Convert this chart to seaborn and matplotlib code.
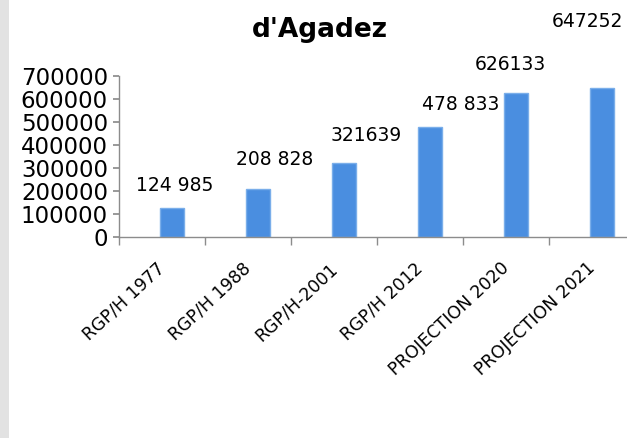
import numpy as np
import pandas as pd
import seaborn as sns
import matplotlib.pyplot as plt
import matplotlib.transforms as mtransforms
from matplotlib.patches import Rectangle

# census / projection population of Agadez
categories = ['RGP/H 1977', 'RGP/H 1988', 'RGP/H-2001', 'RGP/H 2012',
              'PROJECTION 2020', 'PROJECTION 2021']
population = [124985, 208828, 321639, 478833, 626133, 647252]
value_labels = ['124 985', '208 828', '321639', '478 833', '626133', '647252']

df = pd.DataFrame({'cat': categories, 'pop': population})

sns.set_theme(style='white')
plt.rcParams['font.family'] = ['DejaVu Sans']
plt.rcParams['text.color'] = 'black'
plt.rcParams['xtick.color'] = 'black'
plt.rcParams['ytick.color'] = 'black'

fig = plt.figure(figsize=(6.27, 4.38), dpi=100)
# textured gray strip on the left edge
fig.patches.append(Rectangle((0, 0), 9 / 627, 1, transform=fig.transFigure,
                             facecolor='#e2e2e2', edgecolor='none'))

ax = fig.add_axes([119 / 627, 1 - 237 / 438, 516 / 627, 161 / 438])
sns.barplot(data=df, x='cat', y='pop', ax=ax, width=0.28,
            color='#4a8ee0', edgecolor='#7aaeea', linewidth=1, saturation=1)

# bars sit a bit right of the category centre (excel 3d look)
for p in ax.patches:
    p.set_x(p.get_x() + 0.12)

ax.set_xlim(-0.5, 5.5)
ax.set_ylim(0, 700000)
ax.set_yticks(np.arange(0, 700001, 100000))
ax.set_yticklabels([str(v) for v in range(0, 700001, 100000)], fontsize=16.5)
ax.set_xlabel('')
ax.set_ylabel('')

for s in ['top', 'right']:
    ax.spines[s].set_visible(False)
for s in ['left', 'bottom']:
    ax.spines[s].set_color('#8c8c8c')
    ax.spines[s].set_linewidth(1)

ax.tick_params(axis='y', left=True, length=4, color='#8c8c8c',
               labelcolor='black', pad=4)
ax.set_xticks(np.arange(-0.5, 6, 1), minor=True)
ax.tick_params(axis='x', which='minor', bottom=True, length=6, color='#8c8c8c')
ax.tick_params(axis='x', which='major', bottom=False, pad=10,
               labelcolor='black')
shift = mtransforms.ScaledTranslation(-4 / 72, 0, fig.dpi_scale_trans)
for t in ax.get_xticklabels():
    t.set_rotation(43)
    t.set_ha('right')
    t.set_rotation_mode('anchor')
    t.set_fontsize(12.5)
    t.set_transform(t.get_transform() + shift)

# data labels, placed by hand like in the original sheet
offsets = [(0.15, 101000), (0.31, 126000), (0.37, 121000), (0.47, 99000),
           (0.05, 126000), (-0.05, 288000)]
for i, (v, lab) in enumerate(zip(population, value_labels)):
    dx, dy = offsets[i]
    ax.text(i + dx, v + dy, lab, ha='center', va='center', fontsize=13.5,
            color='black', clip_on=False)

fig.text(320 / 627, 1 - 30 / 438, "d'Agadez", ha='center', va='center',
         fontsize=19, fontweight='bold', color='black')

fig.savefig('out.png', dpi=100)
